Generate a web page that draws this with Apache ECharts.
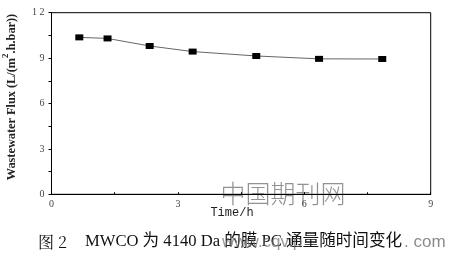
<!DOCTYPE html>
<html><head><meta charset="utf-8">
<script src="https://cdn.jsdelivr.net/npm/echarts@6/dist/echarts.min.js"></script>
<style>html,body{margin:0;padding:0;background:#fff}#c{width:449px;height:256px}</style>
</head><body><div id="c"></div>
<script>
const timeH = [0.66, 1.33, 2.33, 3.35, 4.86, 6.35, 7.85];
const flux = [10.37, 10.30, 9.80, 9.43, 9.14, 8.95, 8.94];
const xTicks = [0, 3, 6, 9];
const yTicks = [0, 3, 6, 9, 12];

const chart = echarts.init(document.getElementById('c'));
const serif = '"Liberation Serif","DejaVu Serif",serif';
chart.setOption({
  animation: false,
  backgroundColor: '#fff',
  grid: {left: 51.5, right: 18.3, top: 12.7, bottom: 61.7, show: true, borderColor: '#000', borderWidth: 1},
  xAxis: {
    type: 'value', min: 0, max: 9, interval: 3,
    axisLine: {show: true, lineStyle: {color: '#000', width: 1}},
    axisTick: {show: true, inside: true, length: 2, lineStyle: {color: '#000'}},
    minorTick: {show: true, splitNumber: 2, length: 2, lineStyle: {color: '#000'}},
    splitLine: {show: false},
    axisLabel: {color: '#444', fontFamily: serif, fontSize: 10, margin: 5,
      formatter: v => xTicks.includes(v) ? String(v) : ''}
  },
  yAxis: {
    type: 'value', min: 0, max: 12, interval: 3,
    axisLine: {show: true, lineStyle: {color: '#000', width: 1}},
    axisTick: {show: true, length: 3, lineStyle: {color: '#000'}},
    minorTick: {show: true, splitNumber: 2, length: 3, lineStyle: {color: '#000'}},
    splitLine: {show: false},
    axisLabel: {color: '#444', fontFamily: serif, fontSize: 10, margin: 7,
      formatter: v => yTicks.includes(v) ? (v === 12 ? '1 2' : String(v)) : ''}
  },
  series: [{
    type: 'line', data: timeH.map((t, i) => [t, flux[i]]),
    symbol: 'rect', symbolSize: [8, 6],
    itemStyle: {color: '#000'},
    lineStyle: {color: '#666', width: 1}
  }],
  graphic: [
    {type: 'text', x: 12, y: 97, rotation: Math.PI / 2, style: {
      text: '{a|Wastewater Flux (L/(m}{s|2}{a|.h.bar))}', align: 'center', verticalAlign: 'middle',
      rich: {a: {fontFamily: serif, fontWeight: 'bold', fontSize: 12.3, fill: '#222'},
             s: {fontFamily: serif, fontWeight: 'bold', fontSize: 9, fill: '#222', verticalAlign: 'bottom', padding: [0, 0, 12, 0]}}
    }},
    {type: 'text', x: 232, y: 213, style: {text: 'Time/h', fontFamily: '"Liberation Mono","DejaVu Sans Mono",monospace', fontSize: 12, fill: '#222', align: 'center', verticalAlign: 'middle'}},
    {type: 'text', x: 283, y: 193, style: {text: '中国期刊网', fontFamily: '"Noto Sans CJK SC",sans-serif', fontWeight: 200, fontSize: 25, fill: 'rgba(110,110,110,0.75)', align: 'center', verticalAlign: 'middle'}},
    {type: 'text', x: 38, y: 242, style: {text: '图 2', fontFamily: '"Noto Serif CJK SC","Liberation Serif","Noto Sans CJK SC",serif', fontSize: 16, fill: '#111', verticalAlign: 'middle'}},
    {type: 'text', x: 85, y: 242, style: {text: 'MWCO 为 4140 Da 的膜 PC 通量随时间变化', fontFamily: '"Liberation Serif","Noto Sans CJK SC",serif', fontSize: 16.6, fill: '#111', verticalAlign: 'middle'}},
    {type: 'text', x: 222, y: 242, style: {text: 'www.cqvip', fontFamily: '"Liberation Sans",sans-serif', fontSize: 17, fill: 'rgba(110,110,110,0.7)', verticalAlign: 'middle'}},
    {type: 'text', x: 404, y: 242, style: {text: '. com', fontFamily: '"Liberation Sans",sans-serif', fontSize: 17, fill: 'rgba(110,110,110,0.8)', verticalAlign: 'middle'}}
  ]
});
</script></body></html>
